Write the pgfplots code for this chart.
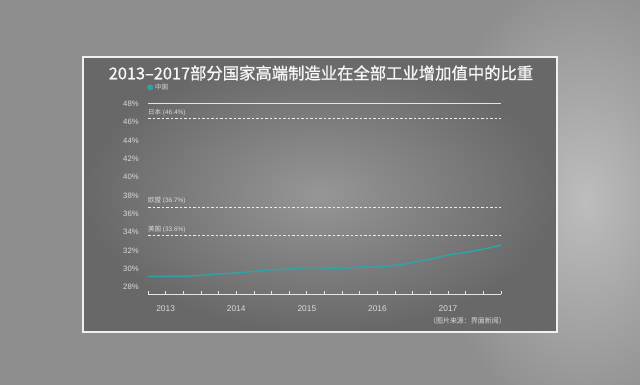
\documentclass[border=0pt]{standalone}
\usepackage{pgfplots}
\pgfplotsset{compat=1.18}
\usepackage{fontspec}
\setmainfont{Liberation Sans}
\newfontfamily\cjk{Noto Sans CJK SC}
\newfontfamily\cjkt[FakeBold=0.9]{Noto Sans CJK SC}
\definecolor{bg}{HTML}{8E8E8E}
\definecolor{halo}{HTML}{BDBDBD}
\definecolor{pcenter}{HTML}{969696}
\definecolor{pedge}{HTML}{686868}
\definecolor{lbl}{HTML}{DADADA}
\definecolor{teal1}{HTML}{2FA3A6}
\begin{document}
\begin{tikzpicture}
\useasboundingbox (0bp,0bp) rectangle (640bp,385bp);
% page background
\fill[bg] (0bp,0bp) rectangle (640bp,385bp);
\begin{scope}
\clip (0bp,0bp) rectangle (640bp,385bp);
\shade[inner color=halo, outer color=bg] (585bp,185bp) ellipse (150bp and 230bp);
\end{scope}
% panel
\shade[inner color=pcenter, outer color=pedge] (83bp,53bp) rectangle (557bp,328bp);
\draw[white!88!gray, line width=1.6bp] (83bp,53bp) rectangle (557bp,328bp);
% title
\node[text=white!94!gray] at (321bp,312bp) {\cjkt\fontsize{16.4}{18}\selectfont 2013–2017部分国家高端制造业在全部工业增加值中的比重};
% source
\node[anchor=east, text=lbl, inner sep=0] at (506bp,64bp) {\cjk\fontsize{7}{8}\selectfont （图片来源：界面新闻）};
\begin{axis}[
  at={(148bp,91bp)}, anchor=south west,
  width=353bp, height=190bp, scale only axis,
  xmin=0, xmax=20, ymin=27.24, ymax=48,
  axis x line=bottom, axis y line=left,
  x axis line style={draw=white!80!gray, line width=0.9bp, -},
  y axis line style={draw=none},
  xtick={0,...,20},
  xticklabels={,2013,,,,2014,,,,2015,,,,2016,,,,2017,,,},
  xtick style={draw=white!80!gray, line width=0.8bp},
  major tick length=3bp,
  tick align=inside,
  ytick={28,30,...,48},
  yticklabels={28\%,30\%,32\%,34\%,36\%,38\%,40\%,42\%,44\%,46\%,48\%},
  ytick style={draw=none},
  yticklabel style={font=\fontsize{7.8}{8}\selectfont, text=lbl, inner sep=0, xshift=-9bp},
  xticklabel style={font=\fontsize{8.4}{9}\selectfont, text=lbl, inner sep=0, yshift=-11bp},
  clip=false,
  legend style={at={(0,1)}, anchor=south west, draw=none, fill=none,
    font=\cjk\fontsize{6.5}{7}\selectfont, text=lbl, inner sep=0, yshift=11bp, xshift=-1bp,
    legend cell align=left},
  legend image code/.code={\fill[teal1] (0.25em,0) circle (2.2bp);},
]
\addplot[teal1, line width=1.5bp, smooth] coordinates {
(0,29.17)(1,29.17)(2,29.17)(3,29.28)(4,29.43)(5,29.54)(6,29.72)(7,29.90)(8,29.97)(9,30.12)(10,30.08)
(11,30.04)(12,30.19)(13,30.19)(14,30.37)(15,30.70)(16,31.06)(17,31.50)(18,31.78)(19,32.15)(20,32.55)};
\addlegendentry{中国}
\addplot[white!80!gray, line width=1bp, forget plot] coordinates {(0,48)(20,48)};
\addplot[white!85!gray, line width=0.9bp, dash pattern=on 2.5bp off 2bp, forget plot] coordinates {(0,46.4)(20,46.4)};
\addplot[white!85!gray, line width=0.9bp, dash pattern=on 2.5bp off 2bp, forget plot] coordinates {(0,36.7)(20,36.7)};
\addplot[white!85!gray, line width=0.9bp, dash pattern=on 2.5bp off 2bp, forget plot] coordinates {(0,33.6)(20,33.6)};
\node[anchor=south west, text=lbl, inner sep=0, font=\fontsize{6.5}{7}\selectfont] at (axis cs:0,46.4) [yshift=3bp] {{\cjk 日本} (46.4\%)};
\node[anchor=south west, text=lbl, inner sep=0, font=\fontsize{6.5}{7}\selectfont] at (axis cs:0,36.7) [yshift=3bp] {{\cjk 欧盟} (36.7\%)};
\node[anchor=south west, text=lbl, inner sep=0, font=\fontsize{6.5}{7}\selectfont] at (axis cs:0,33.6) [yshift=3bp] {{\cjk 美国} (33.6\%)};
\end{axis}
\end{tikzpicture}
\end{document}
